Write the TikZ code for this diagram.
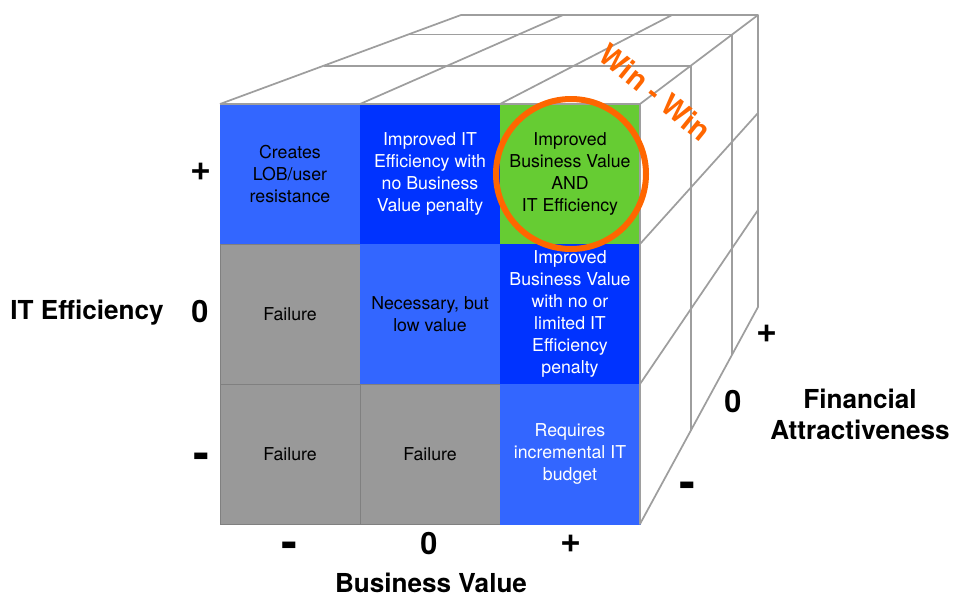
\documentclass[tikz,border=0pt]{standalone}
\usepackage{fontspec}
\setmainfont{TeX Gyre Heros}
\usetikzlibrary{calc}
\definecolor{lightblue}{HTML}{3366FF}
\definecolor{darkblue}{HTML}{0033FF}
\definecolor{cellgray}{HTML}{999999}
\definecolor{wingreen}{HTML}{66CC33}
\definecolor{winorange}{HTML}{FF6600}
\definecolor{edgegray}{HTML}{9E9E9E}

\begin{document}
\begin{tikzpicture}[x=0.75pt,y=-0.75pt,
  cell/.style={minimum width=105pt,minimum height=105pt,inner sep=0pt,align=center,line width=0.75pt,font=\fontsize{13.3}{16.5}\selectfont},
  lb/.style={cell,fill=lightblue,draw=lightblue},
  db/.style={cell,fill=darkblue,draw=darkblue,text=white},
  gr/.style={cell,fill=cellgray,draw=black!50},
  gn/.style={cell,fill=wingreen,draw=wingreen},
  edge/.style={draw=edgegray,line width=1.3pt,line join=round},
  axis/.style={font=\bfseries\fontsize{19.6}{23.25}\selectfont,align=center},
  sign/.style={font=\bfseries\fontsize{23}{23}\selectfont},
  plus/.style={font=\bfseries\fontsize{27}{27}\selectfont},
  minus/.style={font=\bfseries\fontsize{36}{36}\selectfont}]
\useasboundingbox (0,0) rectangle (954,594);

% front face, rows + / 0 / -
\node[lb] (c11) at (290,174) {Creates\\LOB/user\\resistance};
\node[db] (c12) at (430,174) {Improved IT\\Efficiency with\\no Business\\Value penalty};
\node[gn] (c13) at (570,174) {Improved\\Business Value\\AND\\IT Efficiency};
\node[gr] (c21) at (290,314) {Failure};
\node[lb] (c22) at (430,314) {Necessary, but\\low value};
\node[db] (c23) at (570,314) {Improved\\Business Value\\with no or\\limited IT\\Efficiency\\penalty};
\node[gr] (c31) at (290,454) {Failure};
\node[gr] (c32) at (430,454) {Failure};
\node[lb,text=white] (c33) at (570,454) {Requires\\incremental IT\\budget};

% cube edges
\coordinate (f0) at (220,104);
\coordinate (f1) at (360,104);
\coordinate (f2) at (500,104);
\coordinate (f3) at (640,104);
\coordinate (b0) at (461,15);
\coordinate (b1) at (563,15);
\coordinate (b2) at (672,15);
\coordinate (b3) at (758,15);
\coordinate (r1) at (640,244);
\coordinate (r2) at (640,384);
\coordinate (r3) at (640,524);
\coordinate (s1) at (758,113);
\coordinate (s2) at (758,210);
\coordinate (s3) at (758,307);

\draw[edge] (f0)--(b0)--(b3)--(s3)--(r3)--(f3)--(f0);
\draw[edge] (f3)--(b3);
\draw[edge] (f1)--(b1) (f2)--(b2);
\draw[edge] (r1)--(s1) (r2)--(s2);
\draw[edge] ($(f0)!0.43!(b0)$)--($(f3)!0.43!(b3)$)--($(r3)!0.43!(s3)$);
\draw[edge] ($(f0)!0.78!(b0)$)--($(f3)!0.78!(b3)$)--($(r3)!0.78!(s3)$);

% win-win
\node[circle,draw=winorange,line width=4.5pt,minimum size=112.5pt,inner sep=0pt] (win) at (571,174) {};
\node[rotate=-39,text=winorange,font=\bfseries\fontsize{22}{22}\selectfont] (winwin) at (655,92) {Win - Win};

% axes
\node[axis,anchor=base] (itlab) at (87,319) {IT Efficiency};
\node[plus] (ip) at (201,172) {+};
\node[sign] (iz) at (200,312) {0};
\node[minus] (im) at (201,461) {-};
\node[axis,anchor=base] (bvlab) at (431,592) {Business Value};
\node[minus] (bm) at (289,550) {-};
\node[sign] (bz) at (429,544) {0};
\node[plus] (bp) at (571,544) {+};
\node[axis] (falab) at (860,414) {Financial\\Attractiveness};
\node[plus] (fp) at (767,334) {+};
\node[sign] (fz) at (733,402) {0};
\node[minus] (fm) at (687,490) {-};
\end{tikzpicture}
\end{document}
